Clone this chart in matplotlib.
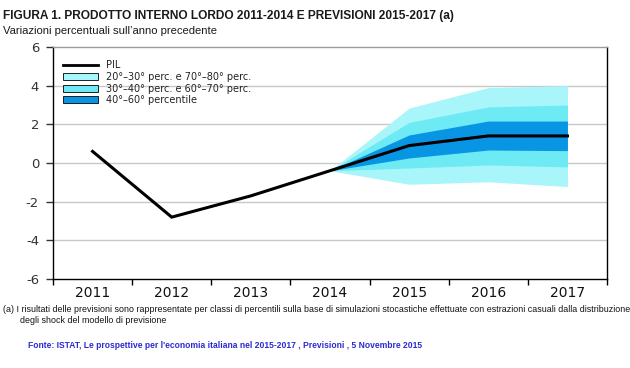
import matplotlib
matplotlib.use("Agg")
import matplotlib.pyplot as plt
from matplotlib.lines import Line2D
from matplotlib.patches import Patch
import numpy as np

# ---- data ----
years = [2011, 2012, 2013, 2014, 2015, 2016, 2017]
pil = [0.6, -2.8, -1.7, -0.4, 0.9, 1.4, 1.4]

fan_years = [2014, 2015, 2016, 2017]
p20 = [-0.4, -1.1, -0.97, -1.22]
p30 = [-0.4, -0.26, -0.1, -0.2]
p40 = [-0.4, 0.26, 0.67, 0.64]
p60 = [-0.4, 1.45, 2.17, 2.17]
p70 = [-0.4, 2.1, 2.9, 3.0]
p80 = [-0.4, 2.84, 3.9, 4.0]

yticks = [-6, -4, -2, 0, 2, 4, 6]
legend_labels = ["PIL", "20°–30° perc. e 70°–80° perc.",
                 "30°–40° perc. e 60°–70° perc.", "40°–60° percentile"]

title = "FIGURA 1. PRODOTTO INTERNO LORDO 2011-2014 E PREVISIONI 2015-2017 (a)"
subtitle = "Variazioni percentuali sull’anno precedente"
note1 = ("(a) I risultati delle previsioni sono rappresentate per classi di percentili sulla base di "
         "simulazioni stocastiche effettuate con estrazioni casuali dalla distribuzione")
note2 = "degli shock del modello di previsione"
source = "Fonte: ISTAT, Le prospettive per l'economia italiana nel 2015-2017 , Previsioni , 5 Novembre 2015"

c_outer = "#A8F5FA"
c_mid = "#6EEAF4"
c_inner = "#0896E4"

W, H = 630, 368
fig = plt.figure(figsize=(W / 100, H / 100), dpi=100)
ax = fig.add_axes([53 / W, 1 - 279 / H, (607 - 53) / W, (279 - 47) / H])

# positions: categories centered at i+0.5
x = np.arange(len(years)) + 0.5
pos = {y: xi for y, xi in zip(years, x)}
fx = [pos[y] for y in fan_years]

ax.fill_between(fx, p20, p80, color=c_outer, lw=0, zorder=2)
ax.fill_between(fx, p30, p70, color=c_mid, lw=0, zorder=3)
ax.fill_between(fx, p40, p60, color=c_inner, lw=0, zorder=4)
ax.plot(x, pil, color="black", lw=2.2, zorder=5, solid_joinstyle="miter")

ax.set_xlim(0, len(years))
ax.set_ylim(-6, 6)
ax.set_yticks(yticks)
ax.set_yticklabels([str(v) for v in yticks])
ax.set_xticks(np.arange(len(years) + 1))
ax.set_xticklabels([])
ax.set_xticks(x, minor=True)
ax.set_xticklabels([str(y) for y in years], minor=True)
ax.tick_params(axis="x", which="minor", length=0, pad=5, labelsize=10, labelcolor="#111111")
ax.tick_params(axis="x", which="major", length=4, width=1, direction="out", color="black")
ax.tick_params(axis="y", length=5, width=1, direction="out", pad=5, labelsize=9.5,
               labelcolor="#333333", color="#333333")
for lab in ax.get_xticklabels(minor=True) + ax.get_yticklabels():
    lab.set_family(["DejaVu Sans"])

for g in [-4, -2, 0, 2, 4]:
    ax.axhline(g, color="#c8c8c8", lw=1.0, zorder=1)
for s in ["left", "bottom", "right"]:
    ax.spines[s].set_color("black")
    ax.spines[s].set_linewidth(1.0)
ax.spines["top"].set_color("#9a9a9a")
ax.spines["top"].set_linewidth(1.0)

handles = [Line2D([0], [0], color="black", lw=2.0),
           Patch(facecolor=c_outer, edgecolor="black", lw=0.6),
           Patch(facecolor=c_mid, edgecolor="black", lw=0.6),
           Patch(facecolor=c_inner, edgecolor="black", lw=0.6)]
leg = ax.legend(handles, legend_labels, loc="upper left", bbox_to_anchor=(10 / 554, 1 - 13 / 232),
                frameon=False, fontsize=7, handlelength=3.6, handleheight=0.75,
                labelspacing=0.18, handletextpad=0.8, borderaxespad=0, borderpad=0,
                prop={"family": "DejaVu Sans", "size": 7})
for t in leg.get_texts():
    t.set_color("#222222")

narrow = ["Liberation Sans Narrow", "Liberation Sans", "DejaVu Sans"]
t_title = fig.text(3 / W, 1 - 19 / H, title, fontsize=8.5, fontweight="bold", family=narrow,
                   color="#1a1a1a", va="baseline", ha="left")
t_sub = fig.text(3 / W, 1 - 34 / H, subtitle, fontsize=8, family=["Liberation Sans", "DejaVu Sans"],
                 color="#1a1a1a", va="baseline", ha="left")
t_n1 = fig.text(3 / W, 1 - 312 / H, note1, fontsize=7, family=narrow, color="#111111",
                va="baseline", ha="left")
t_n2 = fig.text(20 / W, 1 - 323 / H, note2, fontsize=7, family=narrow, color="#111111",
                va="baseline", ha="left")
t_src = fig.text(28 / W, 1 - 348 / H, source, fontsize=7.5, family=narrow, fontweight="bold",
                 color="#2a2ad0", va="baseline", ha="left")

# fit text widths to the reference
fig.canvas.draw()
r = fig.canvas.get_renderer()
for t, wtarget in [(t_title, 450), (t_sub, 217), (t_n1, 619), (t_src, 390)]:
    w = t.get_window_extent(r).width
    t.set_fontsize(t.get_fontsize() * wtarget / w)
t_n2.set_fontsize(t_n1.get_fontsize())

fig.savefig("out.png", dpi=100, facecolor="white")
